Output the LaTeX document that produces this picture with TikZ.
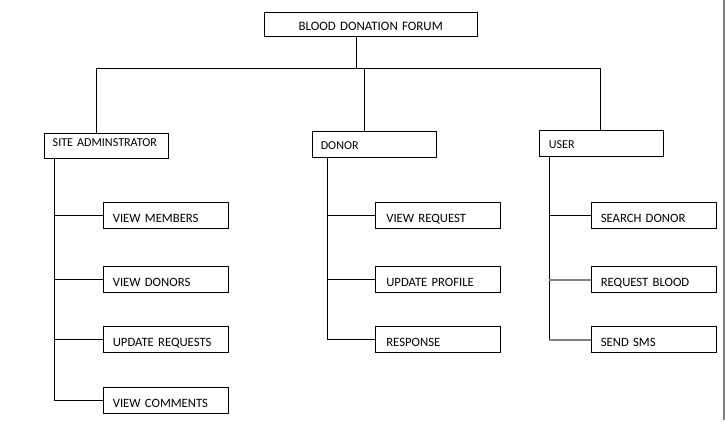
\documentclass[tikz,border=0pt]{standalone}
\usepackage{fontspec}
\setmainfont{Carlito}
\begin{document}
\begin{tikzpicture}[x=1pt,y=-1pt,
  basebox/.style={draw, line width=1pt, anchor=north west, inner ysep=0pt, align=left},
  topbox/.style={basebox, minimum height=24.3pt, inner xsep=0pt, text width=213.5pt, align=center,
     font=\fontsize{12.9}{15}\selectfont, text height=12.3pt, text depth=0pt},
  midbox/.style={basebox, minimum height=25.5pt, inner xsep=8.7pt, text width=107pt,
     font=\fontsize{12.1}{14}\selectfont, text height=9pt, text depth=0pt},
  leafbox/.style={basebox, minimum height=26pt, inner xsep=9pt, text width=107pt,
     font=\fontsize{12.7}{15}\selectfont, text height=12.8pt, text depth=0pt},
  wire/.style={line width=1pt, black},
  graywire/.style={line width=1.8pt, color={rgb,255:red,128;green,128;blue,128}}
]
\useasboundingbox (0,0) rectangle (725,423);

% boxes
\node[topbox] (top) at (263.5,11.7) {BLOOD DONATION FORUM};
\node[midbox, text height=9pt, text depth=7.3pt] (admin) at (43.5,132.7) {SITE ADMINSTRATOR};
\node[midbox] (donor) at (311.6,131.3) {DONOR};
\node[midbox, inner xsep=9.7pt, text width=105.4pt] (user) at (538.6,130.3) {USER};

\node[leafbox] (vm) at (103.3,202.3) {VIEW MEMBERS};
\node[leafbox] (vd) at (103.3,266.3) {VIEW DONORS};
\node[leafbox] (ur) at (103.3,326.3) {UPDATE REQUESTS};
\node[leafbox] (vc) at (103.3,387.3) {VIEW COMMENTS};

\node[leafbox, inner xsep=10.5pt, text width=104pt] (vr) at (375.3,202.3) {VIEW REQUEST};
\node[leafbox, inner xsep=10.5pt, text width=104pt] (up) at (375.3,266.3) {UPDATE PROFILE};
\node[leafbox, inner xsep=10.5pt, text width=104pt] (rs) at (375.3,326.3) {RESPONSE};

\node[leafbox] (sd) at (591.3,202.3) {SEARCH DONOR};
\node[leafbox] (rb) at (591.3,266.3) {REQUEST BLOOD};
\node[leafbox] (ss) at (591.3,326.3) {SEND SMS};

% bus coordinates
\coordinate (busT) at (356.5,68);
\coordinate (busL) at (96.6,68);
\coordinate (busM) at (364,68);
\coordinate (busR) at (600.5,68);
\coordinate (aspine) at (54.5,0);
\coordinate (dspine) at (327,0);
\coordinate (uspine) at (549.3,0);

% top level connectors
\draw[wire] (top.south -| busT) -- (busT);
\draw[wire] (busL) -- (busR);
\draw[wire] (busL) -- (admin.north -| busL);
\draw[wire] (busM) -- (donor.north -| busM);
\draw[wire] (busR) -- (user.north -| busR);

% admin column
\draw[wire] (admin.south -| aspine) |- (vc.west);
\draw[wire] (vm.west -| aspine) -- (vm.west);
\draw[wire] (vd.west -| aspine) -- (vd.west);
\draw[wire] (ur.west -| aspine) -- (ur.west);

% donor column
\draw[wire] (donor.south -| dspine) |- (rs.west);
\draw[wire] (vr.west -| dspine) -- (vr.west);
\draw[wire] (up.west -| dspine) -- (up.west);

% user column
\draw[wire] (user.south -| uspine) -- (ss.west -| uspine);
\draw[wire] (sd.west -| uspine) -- (sd.west);
\draw[graywire] (rb.west -| uspine) -- (rb.west);
\draw[graywire] (ss.west -| uspine) -- (ss.west);

% right border line
\draw[line width=1.8pt, color={rgb,255:red,128;green,128;blue,128}] (724.1,0) -- (724.1,420);
\end{tikzpicture}
\end{document}
